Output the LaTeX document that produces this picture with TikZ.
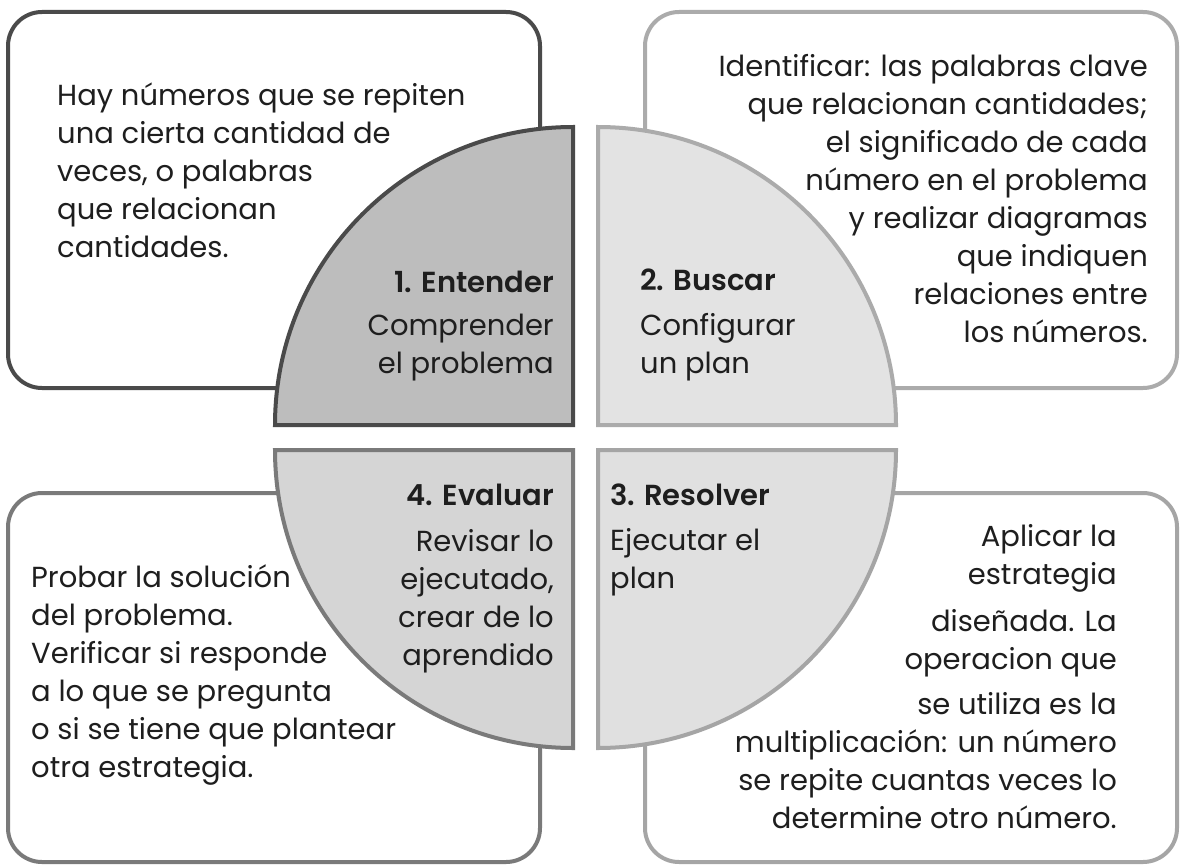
\documentclass[tikz,border=0pt]{standalone}
\usepackage{fontspec}
\setmainfont{Poppins}[BoldFont={Poppins SemiBold}]
\definecolor{txt}{HTML}{1E1E1E}
\definecolor{dk}{HTML}{4A4A4A}
\definecolor{md}{HTML}{7A7A7A}
\definecolor{lt}{HTML}{ABABAB}
\definecolor{lt2}{HTML}{A5A5A5}
\definecolor{f1}{HTML}{BDBDBD}
\definecolor{f2}{HTML}{E3E3E3}
\definecolor{f3}{HTML}{E0E0E0}
\definecolor{f4}{HTML}{D5D5D5}
\begin{document}
\begin{tikzpicture}[x=1pt,y=-1pt,
  box/.style={line width=4pt, rounded corners=34pt, fill=white},
  sector/.style={line width=4pt, line join=miter},
  body/.style={inner sep=0pt, text=txt, font=\fontsize{29}{38}\selectfont},
  head/.style={inner sep=0pt, text=txt, font=\fontsize{29}{38}\selectfont\bfseries}]
\useasboundingbox (0,0) rectangle (1183,867);
% boxes
\draw[box, draw=dk] (8,12) rectangle (540,388);
\draw[box, draw=lt] (645,12) rectangle (1177,388);
\draw[box, draw=md] (8,493) rectangle (540,862);
\draw[box, draw=lt2] (645,493) rectangle (1177,862);
% sectors
\draw[sector, draw=dk, fill=f1] (573,425) -- (275,425) arc[start angle=180, end angle=270, radius=298] -- cycle;
\draw[sector, draw=lt, fill=f2] (598,425) -- (598,127) arc[start angle=270, end angle=360, radius=298] -- cycle;
\draw[sector, draw=md, fill=f4] (573,450) -- (275,450) arc[start angle=180, end angle=90, radius=298] -- cycle;
\draw[sector, draw=lt2, fill=f3] (598,450) -- (896,450) arc[start angle=0, end angle=90, radius=298] -- cycle;
% box texts (base anchor = baseline of the last line)
\node[body, anchor=base west, align=left] (t1) at (57,257)
  {Hay números que se repiten\\una cierta cantidad de\\veces, o palabras\\que relacionan\\cantidades.};
\node[body, anchor=base east, align=right] (t2) at (1148,342)
  {Identificar: las palabras clave\\que relacionan cantidades;\\el significado de cada\\número en el problema\\y realizar diagramas\\que indiquen\\relaciones entre\\los números.};
\node[body, anchor=base west, align=left] (t4) at (31,777)
  {Probar la solución\\del problema.\\Verificar si responde\\a lo que se pregunta\\o si se tiene que plantear\\otra estrategia.};
\node[body, anchor=base east, align=right] (t3) at (1117,828)
  {Aplicar la\\estrategia\\[9pt]diseñada. La\\operacion que\\[7pt]se utiliza es la\\multiplicación: un número\\se repite cuantas veces lo\\determine otro número.};
% sector texts
\node[head, anchor=base east] (h1) at (554,292) {1. Entender};
\node[body, anchor=base east, align=right] (s1) at (554,373) {Comprender\\el problema};
\node[head, anchor=base west] (h2) at (640,290) {2. Buscar};
\node[body, anchor=base west, align=left] (s2) at (640,373) {Configurar\\un plan};
\node[head, anchor=base west] (h3) at (610,505) {3. Resolver};
\node[body, anchor=base west, align=left] (s3) at (610,588) {Ejecutar el\\plan};
\node[head, anchor=base east] (h4) at (554,505) {4. Evaluar};
\node[body, anchor=base east, align=right] (s4) at (554,665) {Revisar lo\\ejecutado,\\crear de lo\\aprendido};
\end{tikzpicture}
\end{document}
